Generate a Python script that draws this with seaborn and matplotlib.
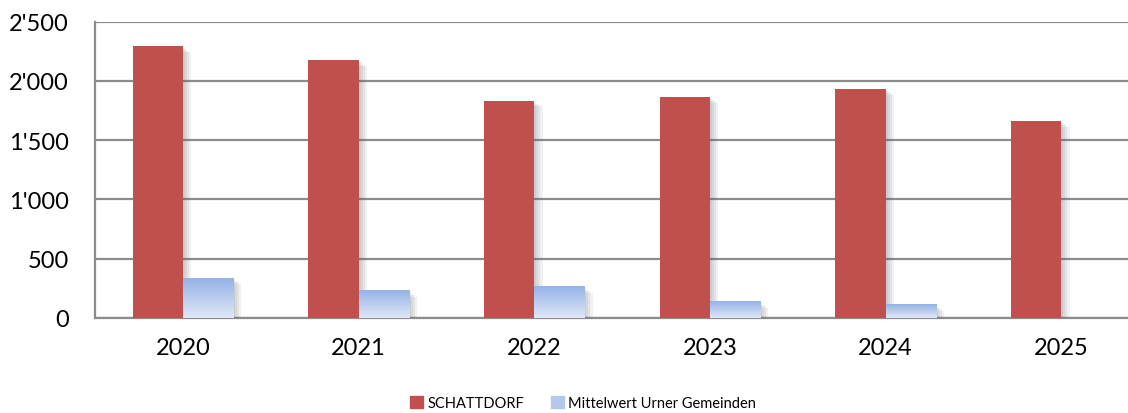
import numpy as np
import pandas as pd
import matplotlib
matplotlib.use("Agg")
import matplotlib.pyplot as plt
import matplotlib.patheffects as pe
from matplotlib.colors import LinearSegmentedColormap
import seaborn as sns

years = ["2020", "2021", "2022", "2023", "2024", "2025"]
schattdorf = [2292, 2174, 1833, 1865, 1932, 1660]
mittelwert = [337, 228, 262, 135, 110, np.nan]
series = ["SCHATTDORF", "Mittelwert Urner Gemeinden"]

df = pd.DataFrame({
    "Jahr": years * 2,
    "Wert": schattdorf + mittelwert,
    "Serie": [series[0]] * len(years) + [series[1]] * len(years),
})

sns.set_style("white")
plt.rcParams["font.family"] = ["Lato", "DejaVu Sans"]
plt.rcParams["text.color"] = "black"
plt.rcParams["xtick.color"] = "black"
plt.rcParams["ytick.color"] = "black"

red = "#c0504d"
blue = "#b4c8ee"

fig = plt.figure(figsize=(11.28, 4.14), dpi=100)
ax = fig.add_axes([95 / 1128, 95 / 414, 1054 / 1128, 296.5 / 414])

sns.barplot(data=df, x="Jahr", y="Wert", hue="Serie", palette=[red, blue],
            width=0.57, gap=0, ax=ax, legend=False, saturation=1)

# soft drop shadow built from a few faint offset copies
shadow = [pe.SimplePatchShadow(offset=(o, -o * 0.7), shadow_rgbFace="#606060", alpha=0.09)
          for o in (1.5, 3, 4.5, 6)] + [pe.Normal()]
grad = LinearSegmentedColormap.from_list("g", ["#dfe7f6", "#95b3e7"])
for i, cont in enumerate(ax.containers):
    for p in cont:
        if not np.isfinite(p.get_height()) or p.get_height() == 0:
            continue
        p.set_edgecolor("none")
        p.set_path_effects(shadow)
        p.set_zorder(3)
        if i == 1:
            x0, y0 = p.get_x(), p.get_y()
            ax.imshow(np.linspace(0, 1, 100).reshape(-1, 1), cmap=grad, origin="lower",
                      extent=[x0, x0 + p.get_width(), y0, y0 + p.get_height()],
                      aspect="auto", zorder=4)

ax.set_xlim(-0.5, 5.5)
ax.set_ylim(0, 2500)
ax.set_yticks([0, 500, 1000, 1500, 2000, 2500])
ax.set_yticklabels(["0", "500", "1'000", "1'500", "2'000", "2'500"])
ax.set_xticks(range(len(years)))
ax.set_xticks(np.arange(-0.5, 6, 1), minor=True)
ax.tick_params(axis="x", which="major", length=0, pad=14, labelsize=17)
ax.tick_params(axis="x", which="minor", length=8, width=1.5, color="#8c8c8c", direction="out")
ax.tick_params(axis="y", length=9, width=1.5, color="#8c8c8c", direction="out", pad=10, labelsize=17)
ax.yaxis.grid(True, color="#8c8c8c", linewidth=1.6, zorder=0)
ax.set_axisbelow(True)
for s in ["top", "right"]:
    ax.spines[s].set_visible(False)
for s in ["left", "bottom"]:
    ax.spines[s].set_color("#8c8c8c")
    ax.spines[s].set_linewidth(1.6)
ax.set_xlabel("")
ax.set_ylabel("")

handles = [plt.Rectangle((0, 0), 1, 1, color=red), plt.Rectangle((0, 0), 1, 1, color=blue)]
fig.legend(handles, series, loc="center", bbox_to_anchor=(583 / 1128, 1 - 404 / 414), ncol=2,
           frameon=False, fontsize=10.5, handlelength=0.9, handleheight=0.9,
           handletextpad=0.3, columnspacing=1.8, borderpad=0.1)

fig.savefig("out.png", dpi=100)
